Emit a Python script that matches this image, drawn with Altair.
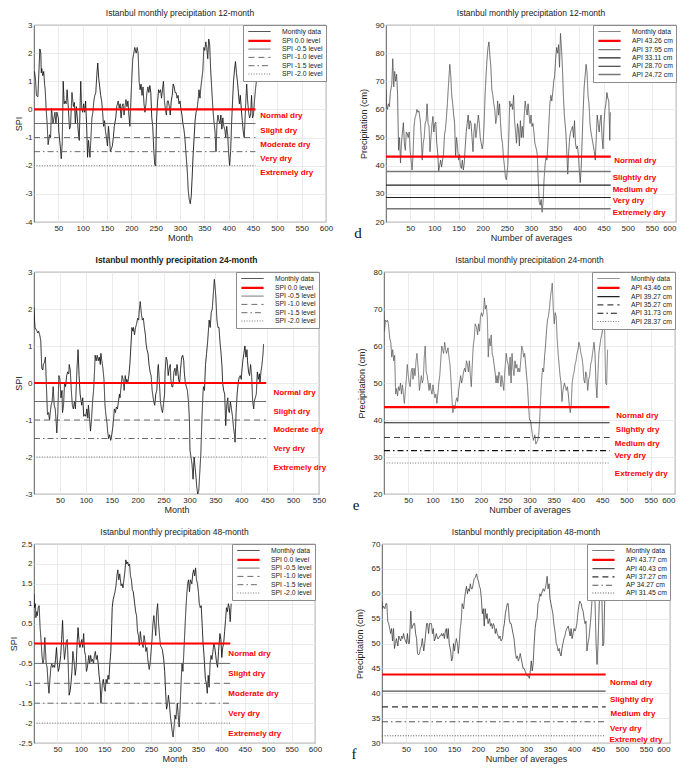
import altair as alt
import pandas as pd

FONT = "Liberation Sans"
SERIF = "Liberation Serif"

# ---------------- data (month, value) ----------------
spi12 = [(1,1.35),(3,1.1),(5,0.5),(8,0.45),(10,1.3),(12,2.15),(14,2.0),(15,1.3),(16,1.45),(18,1.2),(20,1.35),(22,0.85),(23,0.7),(25,0.0),(27,-0.5),(29,-1.25),(32,-0.9),(34,-1.0),(36,0.05),(39,-0.5),(41,-0.3),(43,-0.1),(45,-0.5),(47,-0.1),(50,-0.3),(51,-0.8),(54,-1.3),(56,-1.75),(58,-1.2),(60,1.0),(62,0.2),(64,0.3),(66,0.2),(68,0.7),(70,0.2),(73,-0.7),(75,-0.6),(78,0.6),(81,0.1),(83,0.25),(85,-0.5),(87,0.1),(89,-0.3),(91,-0.8),(93,-1.1),(95,0.3),(96,1.0),(98,0.05),(100,-0.1),(102,0.2),(104,-0.1),(106,0.3),(108,-0.5),(110,-1.7),(112,-1.1),(115,-1.7),(117,-1.0),(119,-0.3),(121,-0.1),(123,0.3),(125,0.5),(127,0.6),(129,1.2),(131,1.65),(133,1.1),(135,0.8),(137,0.5),(139,0.3),(141,-0.1),(143,-0.6),(145,-0.4),(147,-0.8),(149,-1.0),(151,-1.3),(153,-0.6),(155,-1.0),(157,-1.5),(161,-1.3),(163,-1.0),(165,-0.6),(168,-0.3),(170,0.1),(173,0.3),(175,0.05),(177,0.2),(179,-0.3),(181,0.1),(183,0.2),(185,-0.2),(187,0.1),(189,0.35),(191,0.1),(193,0.3),(195,-0.2),(197,-0.6),(199,0.3),(201,1.1),(203,1.8),(205,2.0),(207,2.2),(210,2.0),(212,2.2),(214,2.0),(216,1.0),(218,0.7),(220,0.9),(222,0.5),(224,0.8),(226,0.2),(228,-0.1),(230,0.2),(232,0.6),(234,0.8),(236,0.6),(238,0.85),(240,0.6),(242,-0.3),(244,-0.6),(246,-1.4),(248,-1.95),(250,-2.0),(251,-1.0),(252,-0.3),(254,0.3),(256,0.7),(258,0.6),(260,0.7),(262,0.4),(264,0.7),(266,1.0),(268,0.3),(270,0.0),(272,-0.2),(274,0.3),(276,0.3),(278,0.1),(280,-0.2),(282,0.3),(284,0.5),(286,0.9),(288,0.8),(290,0.6),(292,0.6),(294,0.4),(296,0.5),(298,0.2),(300,0.3),(302,0.0),(304,-0.2),(306,-0.5),(308,-0.7),(310,-1.0),(312,-1.5),(315,-2.2),(317,-2.9),(319,-3.2),(321,-3.35),(323,-3.1),(325,-2.4),(327,-1.6),(329,-1.0),(331,-0.4),(333,-0.1),(335,0.0),(337,0.3),(339,0.7),(341,0.4),(343,0.8),(345,1.1),(347,1.4),(349,2.2),(351,2.1),(353,2.4),(355,2.2),(357,1.8),(359,2.5),(361,2.3),(363,1.4),(365,0.8),(367,0.2),(369,-0.3),(372,-0.8),(374,-1.5),(376,-0.5),(378,-0.2),(380,-0.4),(382,-0.5),(384,-0.2),(386,-0.7),(388,-0.3),(390,-0.6),(392,-0.7),(394,-1.0),(396,-0.6),(398,-0.9),(400,-1.6),(402,-2.0),(404,-1.5),(406,-0.5),(408,0.3),(410,1.0),(412,1.4),(414,1.7),(416,1.3),(418,1.0),(420,0.6),(422,0.2),(424,0.5),(426,0.0),(428,-0.4),(430,-0.8),(432,-1.0),(435,0.2),(437,0.9),(439,0.3),(441,-0.1),(443,-0.3),(445,-0.2),(447,0.5),(449,-0.3),(451,-0.2),(453,0.3),(455,0.7),(457,1.0),(459,1.3)]

api12 = [(0,67),(1,62),(3,60),(5,62),(7,61),(9,66),(12,69),(14,78),(16,68),(18,73.5),(20,70),(22,72.5),(24,65),(26,45.5),(28,50),(30,41),(32,48),(34,52),(36,55.3),(38,48),(40,45.5),(42,52),(44,51.5),(46,50),(48,52),(50,45),(52,42),(54,38.5),(56,44),(58,54),(60,57),(62,58),(64,60),(66,59),(68,59.5),(71,56),(73,50),(75,42),(77,48),(79,50),(81,55),(83,56),(85,62),(87,55),(89,54),(91,45),(93,50),(95,54.5),(97,57.5),(99,52),(101,55),(103,55.5),(105,48),(107,44.5),(109,38),(111,40),(113,42),(115,39.5),(117,42),(119,44),(121,51),(123,53),(125,57),(127,62),(129,68),(132,76),(134,72),(136,65),(138,62),(140,58),(142,55),(144,43),(146,50),(148,47),(150,42),(152,44),(154,40),(156,39),(158,42),(160,38.5),(162,41),(164,47),(166,52),(168,55),(170,58),(172,53),(174,56),(176,55),(178,50),(180,45),(182,52),(184,55),(186,50),(188,53),(191,58),(193,55),(195,50),(197,48),(199,46),(201,48),(203,55),(205,65),(207,72),(209,78),(211,82),(213,84),(215,79),(217,75),(219,67),(221,65),(223,62),(225,60),(227,55),(229,57),(231,63),(233,58),(235,62),(237,55),(239,50),(241,48),(243,43),(245,40),(247,36),(249,35),(252,40),(254,50),(256,63),(258,61),(260,62),(262,60),(264,65),(266,56),(268,52),(270,48),(272,55),(274,53),(276,47),(278,56),(280,50),(282,54),(284,50),(286,58),(288,63),(290,60),(292,58),(294,62),(296,58),(298,55),(300,58),(302,54),(304,55),(306,52),(308,48),(311,46),(313,44),(315,35),(317,27),(319,26),(321,28),(323,23.5),(325,27),(327,35),(329,40),(331,43),(333,42),(335,48),(337,55),(339,62),(341,65),(343,63),(345,66),(347,70),(349,72),(351,78),(353,82),(355,80),(357,83),(359,75),(361,87),(363,82),(365,75),(367,65),(369,58),(372,52),(374,45),(376,37),(378,45),(380,50),(382,52),(384,53),(386,54),(388,50),(390,56),(392,48),(394,46),(396,47),(398,44),(400,38),(402,34),(404,40),(406,50),(408,60),(410,68),(412,72),(414,76),(416,73),(418,65),(420,62),(422,55),(424,52),(426,50),(428,48),(431,45),(433,42),(435,50),(437,58),(439,55),(441,52),(443,56),(445,58),(447,50),(449,46),(451,55),(453,60),(455,62),(457,66),(459,64),(461,63),(463,49),(464,59)]

spi24 = [(0,2.05),(1,1.7),(2,1.5),(4,1.45),(6,1.4),(7,1.35),(9,1.4),(11,1.3),(13,1.15),(15,0.4),(17,0.35),(18,0.5),(20,0.55),(22,0.7),(24,-0.1),(26,-0.85),(28,-0.8),(30,-1.0),(31,-0.85),(33,-0.6),(35,-0.5),(37,-0.1),(39,-0.6),(41,-0.7),(43,-1.1),(44,-1.35),(46,-0.8),(48,0.2),(50,0.1),(52,-0.4),(54,-0.2),(55,-0.8),(57,-0.6),(59,0.0),(61,-0.1),(63,0.2),(65,0.3),(67,0.25),(68,0.5),(70,0.35),(72,-0.2),(74,-0.6),(76,-0.7),(78,-0.5),(80,-0.7),(81,-0.3),(83,0.4),(85,0.9),(87,0.2),(89,-0.3),(91,-0.5),(92,-0.6),(94,-0.4),(96,-0.9),(98,-0.85),(100,-0.9),(102,-0.7),(104,-0.95),(105,-0.6),(107,-0.9),(109,-1.3),(111,-1.0),(113,-0.5),(115,-0.2),(117,0.4),(118,0.75),(120,0.6),(122,0.75),(124,0.6),(126,0.7),(128,0.5),(129,0.8),(131,0.6),(133,0.4),(135,0.1),(137,-0.6),(139,-0.9),(141,-1.1),(142,-1.3),(144,-1.5),(146,-1.4),(148,-1.55),(150,-1.4),(152,-1.2),(154,-0.9),(155,-0.7),(157,-0.8),(159,-0.65),(161,-0.7),(163,-0.5),(165,-0.3),(166,-0.4),(168,-0.1),(170,0.2),(172,0.1),(174,-0.2),(176,0.2),(178,0.0),(179,0.1),(181,0.0),(183,0.2),(185,0.5),(187,1.0),(189,1.5),(191,1.4),(192,1.5),(194,1.3),(196,1.5),(198,1.6),(200,1.75),(202,1.7),(203,1.95),(205,2.2),(207,1.9),(209,1.7),(211,1.75),(213,1.5),(215,1.3),(216,1.1),(218,0.9),(220,0.8),(222,0.5),(224,0.3),(226,0.2),(228,-0.2),(229,-0.3),(231,-0.5),(233,-0.6),(235,-0.3),(237,-0.2),(239,0.4),(240,0.5),(242,0.0),(244,-0.5),(246,-0.7),(248,-0.8),(250,-0.55),(252,-0.3),(253,0.3),(255,0.7),(257,0.6),(259,0.2),(261,0.4),(263,0.5),(264,0.1),(266,-0.1),(268,-0.1),(270,0.3),(272,0.4),(274,0.2),(276,0.5),(277,0.4),(279,0.1),(281,0.0),(283,0.4),(285,0.7),(287,0.75),(289,0.6),(290,0.3),(292,0.0),(294,-0.1),(296,-0.2),(298,-0.5),(300,-1.0),(301,-1.8),(303,-2.0),(305,-2.2),(307,-2.6),(309,-2.0),(311,-2.3),(313,-2.6),(314,-2.8),(316,-3.0),(318,-2.9),(320,-2.4),(322,-1.9),(324,-1.0),(326,-0.3),(327,-0.1),(329,-0.2),(331,0.5),(333,0.8),(335,1.1),(337,1.5),(338,1.7),(340,1.5),(342,1.9),(344,2.0),(346,2.4),(348,2.8),(350,2.5),(351,2.3),(353,1.7),(355,1.5),(357,1.5),(359,1.1),(361,0.8),(363,0.4),(364,0.0),(366,-0.2),(368,-0.3),(370,-1.15),(372,-0.6),(374,-0.4),(375,-0.7),(377,-0.8),(379,-0.5),(381,-0.7),(383,-0.9),(385,-1.2),(387,-1.4),(388,-1.6),(390,-0.8),(392,-0.3),(394,0.0),(396,0.15),(398,0.2),(400,0.1),(401,0.3),(403,0.6),(405,0.8),(407,1.0),(409,0.7),(411,0.9),(412,0.6),(414,0.3),(416,0.2),(418,0.5),(420,0.2),(422,-0.5),(424,-0.7),(425,-0.5),(427,-0.4),(429,-0.3),(431,0.3),(433,0.1),(435,0.25),(436,0.0),(438,0.3),(440,0.5),(442,0.8),(443,1.05)]

api24 = [(0,69),(1,64),(3,67),(5,66.5),(7,67),(9,66),(12,62),(14,61),(16,57),(18,59),(20,56),(22,57.5),(24,47),(26,48.5),(28,46.5),(30,49),(32,48),(34,50),(36,47),(38,49.5),(40,47),(42,44.5),(44,48),(46,51),(48,55),(50,52),(52,50),(54,49),(56,53),(58,54),(60,51),(62,54),(64,52),(66,56),(68,58),(71,53),(73,48),(75,50),(77,52),(79,50),(81,51),(83,57),(85,60),(87,53),(89,52),(91,50),(93,48),(95,50),(97,48),(99,47),(101,49.5),(103,47.5),(105,46),(107,47),(109,44.5),(111,47),(113,50),(115,52),(117,56),(119,60),(121,59),(123,58),(125,61),(127,59),(129,58),(132,59.5),(134,57),(136,55),(138,51),(140,46),(142,42),(144,44),(146,43),(148,45),(150,46),(152,45),(154,48),(156,50),(158,52),(160,50),(162,51),(164,53),(166,54),(168,53),(170,56),(172,55),(174,53),(176,56),(178,52),(180,49),(182,55),(184,60),(186,62),(188,66),(191,65),(193,63),(195,66),(197,64),(199,68),(201,69),(203,68),(205,69),(207,73),(209,70),(211,71),(213,68),(215,57),(217,62),(219,60),(221,63),(223,58),(225,57),(227,55),(229,53),(231,50),(233,52),(235,50),(237,53),(239,52),(241,49),(243,52),(245,50),(247,48),(249,53),(252,58),(254,56),(256,55),(258,52),(260,57),(262,50),(264,58),(266,54),(268,52),(270,56),(272,54),(274,55),(276,53),(278,54),(280,53),(282,56),(284,60),(286,59),(288,57),(290,58),(292,55),(294,52),(296,49),(298,44),(300,40),(302,40),(304,38),(306,36),(308,34.5),(311,36),(313,33.5),(315,34),(317,34.5),(319,36),(321,40),(323,46),(325,51),(327,54),(329,53),(331,57),(333,60),(335,64),(337,67),(339,68),(341,70),(343,73),(345,75),(347,77),(349,70),(351,66),(353,69),(355,68),(357,62),(359,58),(361,55),(363,52),(365,50),(367,45),(369,48),(372,50),(374,49),(376,48),(378,49),(380,47),(382,44),(384,42),(386,44),(388,50),(390,52),(392,53),(394,55),(396,56),(398,58),(400,59),(402,61),(404,60),(406,58),(408,57),(410,55),(412,51),(414,50),(416,53),(418,52),(420,48),(422,51),(424,52),(426,55),(428,56),(431,59),(433,61),(435,58),(437,50),(439,46),(441,52),(443,58),(445,60),(447,62),(449,63),(451,65),(453,66),(455,64),(457,50),(459,49.5),(461,59)]

spi48 = [(0,1.25),(1,0.9),(3,1.0),(4,0.65),(6,0.8),(7,0.7),(9,0.9),(11,0.95),(13,0.4),(15,0.1),(17,-0.3),(19,-0.5),(21,-0.4),(23,0.15),(26,-0.5),(28,-0.6),(30,-1.0),(32,-1.25),(34,-0.9),(36,-0.6),(38,-0.5),(40,-0.6),(42,-0.55),(44,-0.6),(46,-0.4),(48,-0.1),(50,-0.5),(52,-0.7),(54,-0.6),(57,-0.3),(59,0.1),(61,0.58),(63,0.0),(65,-0.4),(67,-0.2),(69,0.05),(71,0.1),(73,-0.5),(75,-1.3),(77,-1.2),(79,-1.0),(81,-0.7),(83,-0.2),(86,-0.5),(88,-0.8),(90,-0.6),(92,0.0),(94,0.4),(96,0.1),(98,-0.1),(100,0.0),(102,0.1),(104,-0.1),(106,0.25),(108,-0.2),(110,-0.3),(112,-0.7),(114,-0.6),(117,-0.3),(119,-0.5),(121,-0.3),(123,-0.45),(125,-0.4),(127,-0.5),(129,-0.3),(131,-0.2),(133,-0.4),(135,-0.3),(137,-0.5),(139,-0.8),(141,-1.0),(143,-1.5),(146,-1.0),(148,-0.9),(150,-1.1),(152,-1.2),(154,-0.9),(156,-1.0),(158,-0.8),(160,-0.9),(162,-0.5),(164,-0.2),(166,0.5),(167,0.9),(169,1.1),(171,1.2),(173,1.3),(175,1.45),(177,1.7),(179,1.85),(181,1.6),(183,1.75),(186,1.45),(188,1.5),(190,1.4),(192,1.6),(194,1.8),(196,2.1),(198,2.0),(200,2.05),(202,1.95),(204,2.0),(206,1.7),(208,1.6),(210,1.35),(212,1.3),(215,1.0),(217,0.8),(219,0.7),(221,0.3),(223,0.2),(225,-0.05),(227,0.3),(229,0.1),(231,0.0),(233,-0.1),(235,0.2),(237,0.05),(239,-0.2),(241,-0.1),(243,-0.4),(246,-0.65),(248,-0.5),(250,-0.2),(252,0.1),(254,0.5),(256,0.7),(258,0.45),(260,0.2),(262,0.8),(264,1.0),(266,0.5),(268,0.2),(270,-0.05),(272,-0.1),(274,-0.15),(277,-0.4),(279,-0.7),(281,-1.2),(283,-1.65),(285,-1.55),(287,-1.3),(289,-1.5),(291,-1.8),(293,-2.0),(295,-2.2),(297,-2.35),(299,-2.1),(301,-1.8),(303,-1.9),(306,-1.5),(308,-1.8),(310,-2.1),(312,-1.6),(314,-1.0),(316,-0.5),(318,-0.7),(320,-0.2),(322,0.3),(324,0.8),(326,1.2),(328,1.5),(330,1.6),(332,1.3),(334,1.6),(337,1.5),(339,1.75),(341,1.85),(343,1.7),(345,1.9),(347,1.6),(349,1.5),(351,1.3),(353,1.0),(355,0.9),(357,0.95),(359,0.5),(361,0.0),(363,-0.3),(366,-0.9),(368,-1.0),(370,-1.25),(372,-0.8),(374,-1.1),(376,-0.5),(378,-0.3),(380,-0.4),(382,-0.2),(384,0.0),(386,-0.1),(388,-0.3),(390,-0.5),(392,-0.6),(394,-0.2),(397,0.25),(399,0.1),(401,-0.35),(403,-0.1),(405,0.0),(407,0.3),(409,0.6),(411,0.9),(413,0.8),(415,1.0),(417,0.9),(419,0.55),(421,1.0)]

api48 = [(0,58.5),(1,57),(3,57.5),(6,57),(8,58),(10,58),(12,54.5),(14,54),(16,53),(18,52),(20,53),(22,50.5),(24,53),(26,49),(28,50),(30,51),(33,49.5),(35,51.5),(37,51),(39,50.5),(41,51.5),(43,51),(45,52),(47,51),(49,50.5),(51,50),(53,52),(55,50),(57,50),(60,56.5),(62,53),(64,53.5),(66,54),(68,54),(70,52),(72,51),(74,48),(76,47.7),(78,48),(80,49),(82,49.5),(84,51),(87,48.5),(89,50),(91,52),(93,54),(95,54),(97,52),(99,54),(101,54),(103,54),(105,52),(107,53),(109,50.5),(111,51),(113,52),(116,51),(118,51),(120,51.5),(122,51.5),(124,52),(126,51.5),(128,52),(130,51),(132,52.5),(134,53),(136,51),(138,53),(140,50),(143,48.5),(145,46.5),(147,47),(149,50),(151,48.5),(153,50),(155,51),(157,50),(159,48),(161,50),(163,53),(165,54.5),(167,58),(170,57),(172,59),(174,60.5),(176,61.5),(178,60),(180,61),(182,60.5),(184,62),(186,61),(188,61),(190,62),(192,63),(194,63.2),(197,64),(199,63),(201,62.5),(203,61.5),(205,61),(207,59),(209,56),(211,57),(213,53.5),(215,57),(217,55),(219,56),(221,54),(224,55),(226,53.5),(228,54),(230,53),(232,54),(234,53.5),(236,52),(238,53),(240,52),(242,51.5),(244,51),(246,51.5),(248,50.5),(251,51),(253,53),(255,54),(257,56),(259,57),(261,58),(263,58),(265,55),(267,54),(269,54),(271,53),(273,52),(275,51),(278,48),(280,47),(282,47.5),(284,46.5),(286,47),(288,48),(290,47),(292,46),(294,45),(296,45),(298,44.5),(300,44),(302,43.5),(305,43.5),(307,43),(309,44.5),(311,46.5),(313,44.5),(315,46),(317,50),(319,53),(321,54.5),(323,55),(325,58),(327,58.5),(329,60),(331,59.5),(334,60.5),(336,61),(338,60.5),(340,61),(342,62),(344,63.5),(346,61),(348,62),(350,59),(352,58),(354,57),(356,56),(358,54),(361,52),(363,50),(365,49.5),(367,48.5),(369,49),(371,48),(373,47.5),(375,49),(377,50),(379,51),(381,51.5),(383,52.5),(385,53),(388,53.5),(390,52.5),(392,51.5),(394,53),(396,51),(398,52),(400,53),(402,52.5),(404,53),(406,54),(408,56),(410,57.5),(412,58.5),(415,58),(417,57),(419,56.5),(421,55),(423,54),(425,54.5),(427,48.5),(429,50),(431,51),(433,53),(435,55),(437,58),(439,60.5),(442,60),(444,58),(446,50),(448,45.8),(450,50),(452,56),(454,61),(456,66.5),(458,60),(460,49.5),(462,50),(464,59)]

# threshold levels and legend names
spi_levels = [0.0, -0.5, -1.0, -1.5, -2.0]
spi_names = ["Monthly data", "SPI  0.0 level", "SPI -0.5 level", "SPI -1.0 level", "SPI -1.5 level", "SPI -2.0 level"]
api12_levels = [43.26, 37.95, 33.11, 28.70, 24.72]
api12_names = ["Monthly data", "API 43.26 cm", "API 37.95 cm", "API 33.11 cm", "API 28.70 cm", "API 24.72 cm"]
api24_levels = [43.46, 39.27, 35.27, 31.73, 28.37]
api24_names = ["Monthly data", "API 43.46 cm", "API 39.27 cm", "API 35.27 cm", "API 31.73 cm", "API 28.37 cm"]
api48_levels = [43.77, 40.43, 37.27, 34.27, 31.45]
api48_names = ["Monthly data", "API 43.77 cm", "API 40.43 cm", "API 37.27 cm", "AP 34.27 cm", "API 31.45 cm"]

# x-extent of the threshold lines
spi12_span = [0, 455]
api12_span = [0, 465]
spi24_span = [0, 448]
api24_span = [0, 465]
spi48_span = [0, 419]
api48_span = [0, 466]

# drought class annotations
spi_classes = ["Normal dry", "Slight dry", "Moderate dry", "Very dry", "Extremely dry"]
api_classes = ["Normal dry", "Slightly dry", "Medium dry", "Very dry", "Extremely dry"]
spi12_cx = [465, 465, 465, 465, 465]
spi12_cy = [-0.25, -0.75, -1.25, -1.75, -2.25]
api12_cx = [472, 469, 469, 469, 469]
api12_cy = [41.5, 35.6, 31.3, 27.4, 23.1]
spi24_cx = [462, 462, 462, 462, 462]
spi24_cy = [-0.28, -0.78, -1.28, -1.78, -2.29]
api24_cx = [479, 478, 476, 475, 476]
api24_cy = [41.1, 37.2, 33.4, 30.3, 25.4]
spi48_cx = [415, 415, 415, 415, 415]
spi48_cy = [-0.27, -0.76, -1.26, -1.76, -2.27]
api48_cx = [475, 475, 476, 475, 474]
api48_cy = [42.1, 38.7, 35.8, 32.8, 30.7]

x_ticks600 = [50, 100, 150, 200, 250, 300, 350, 400, 450, 500, 550, 600]
x_ticks550 = [50, 100, 150, 200, 250, 300, 350, 400, 450, 500, 550]

# ---------------- styles ----------------
SOLID, DASH, DASHDOT, DOT = [1, 0], [6, 4], [6, 3, 1.5, 3], [1, 1.6]
RED = "#ff0000"
spi_style = (["#111111", RED, "#5a5a5a", "#5a5a5a", "#5a5a5a", "#6a6a6a"],
             [SOLID, SOLID, SOLID, DASH, DASHDOT, DOT],
             [0.9, 2.2, 0.9, 0.9, 0.9, 0.9])
api12_style = (["#444444", RED, "#777777", "#222222", "#222222", "#777777"],
               [SOLID, SOLID, SOLID, SOLID, SOLID, SOLID],
               [0.8, 2.2, 1.4, 1.1, 1.1, 1.4])
api24_style = (["#555555", RED, "#222222", "#444444", "#111111", "#777777"],
               [SOLID, SOLID, SOLID, DASH, DASHDOT, DOT],
               [0.8, 2.2, 1.1, 1.1, 1.1, 1.1])
api48_style = (["#333333", RED, "#555555", "#333333", "#555555", "#555555"],
               [SOLID, SOLID, SOLID, DASH, DASHDOT, DOT],
               [0.8, 2.2, 1.1, 1.1, 1.1, 1.0])

NUM = "datum.value + ''"


def panel(series, levels, names, span, classes, cx, cy, style, title, ytitle, xtitle,
          xdom, xticks, ydom, yticks, w, h, ytp, bold=False, letter=None, flush=False):
    rows = [{"m": m, "v": v, "s": names[0]} for m, v in series]
    for lv, nm in zip(levels, names[1:]):
        rows.append({"m": span[0], "v": lv, "s": nm})
        rows.append({"m": span[1], "v": lv, "s": nm})
    df = pd.DataFrame(rows)
    colors, dashes, widths = style
    xs = alt.Scale(domain=xdom, nice=False, zero=False)
    ys = alt.Scale(domain=ydom, nice=False, zero=False)
    lines = alt.Chart(df).mark_line(clip=True).encode(
        x=alt.X("m:Q", scale=xs, axis=alt.Axis(values=xticks, title=xtitle, labelExpr=NUM,
                                               labelOverlap=False, tickCount=len(xticks),
                                               labelFlush=flush)),
        y=alt.Y("v:Q", scale=ys, axis=alt.Axis(values=yticks, title=ytitle, labelExpr=NUM, titlePadding=ytp,
                                               labelOverlap=False, tickCount=len(yticks))),
        color=alt.Color("s:N", scale=alt.Scale(domain=names, range=colors), legend=alt.Legend(title=None)),
        strokeDash=alt.StrokeDash("s:N", scale=alt.Scale(domain=names, range=dashes), legend=alt.Legend(title=None)),
        strokeWidth=alt.StrokeWidth("s:N", scale=alt.Scale(type="ordinal", domain=names, range=widths),
                                    legend=alt.Legend(title=None)),
    )
    tdf = pd.DataFrame({"m": cx, "v": cy, "t": classes})
    texts = alt.Chart(tdf).mark_text(align="left", baseline="middle", color=RED, font=FONT,
                                     fontSize=8, fontWeight="bold").encode(x="m:Q", y="v:Q", text="t:N")
    layers = [lines, texts]
    if letter:
        ldf = pd.DataFrame({"t": [letter]})
        layers.append(alt.Chart(ldf).mark_text(font=SERIF, fontSize=15, align="center", baseline="middle",
                                               color="#111111").encode(
            x=alt.value(-28), y=alt.value(h + 11), text="t:N"))
    return alt.layer(*layers).properties(
        width=w, height=h,
        title=alt.TitleParams(title, fontWeight="bold" if bold else "normal"))


A = panel(spi12, spi_levels, spi_names, spi12_span, spi_classes, spi12_cx, spi12_cy, spi_style,
          "Istanbul monthly precipitation 12-month", "SPI", "Month",
          [0, 600], x_ticks600, [-4, 3], [-4, -3, -2, -1, 0, 1, 2, 3], 292, 197, 1)
B = panel(api12, api12_levels, api12_names, api12_span, api_classes, api12_cx, api12_cy, api12_style,
          "Istanbul monthly precipitation 12-month", "Precipitation (cm)", "Number of averages",
          [0, 600], x_ticks600, [20, 90], [20, 30, 40, 50, 60, 70, 80, 90], 290, 197, 7, letter="d", flush=True)
C = panel(spi24, spi_levels, spi_names, spi24_span, spi_classes, spi24_cx, spi24_cy, spi_style,
          "Istanbul monthly precipitation 24-month", "SPI", "Month",
          [0, 550], x_ticks550, [-3, 3], [-3, -2, -1, 0, 1, 2, 3], 285, 222, 1, bold=True)
D = panel(api24, api24_levels, api24_names, api24_span, api_classes, api24_cx, api24_cy, api24_style,
          "Istanbul monthly precipitation 24-month", "Precipitation (cm)", "Number of averages",
          [0, 600], x_ticks600, [20, 80], [20, 30, 40, 50, 60, 70, 80], 291, 222, 7, letter="e", flush=True)
E = panel(spi48, spi_levels, spi_names, spi48_span, spi_classes, spi48_cx, spi48_cy, spi_style,
          "Istanbul monthly precipitation 48-month", "SPI", "Month",
          [0, 600], x_ticks600, [-2.5, 2.5], [-2.5, -2, -1.5, -1, -0.5, 0, 0.5, 1, 1.5, 2, 2.5], 281, 199, 0)
F = panel(api48, api48_levels, api48_names, api48_span, api_classes, api48_cx, api48_cy, api48_style,
          "Istanbul monthly precipitation 48-month", "Precipitation (cm)", "Number of averages",
          [0, 600], x_ticks600, [30, 70], [30, 35, 40, 45, 50, 55, 60, 65, 70], 288, 199, 7, letter="f", flush=True)

IND = dict(color="independent", strokeDash="independent", strokeWidth="independent")


def row(a, b, sp):
    return alt.hconcat(a, b, spacing=sp).resolve_scale(**IND).resolve_legend(**IND)


chart = alt.vconcat(row(A, B, 19), row(C, D, 25), row(E, F, 28), spacing=12).resolve_scale(**IND).resolve_legend(**IND)
chart = chart.properties(padding=0, background="white").configure_view(
    stroke="#333333", strokeWidth=0.8
).configure_axis(
    labelFont=FONT, titleFont=FONT, labelFontSize=8, titleFontSize=9,
    labelColor="#262626", titleColor="#262626", titleFontWeight="normal",
    grid=True, gridColor="#e6e6e6", gridWidth=0.8, domain=False, ticks=False,
    labelFlush=False, labelOverlap=False, labelPadding=2
).configure_axisX(titlePadding=1).configure_axisY(labelPadding=2).configure_title(
    font=FONT, fontSize=8.5, color="#222222", offset=0
).configure_legend(
    orient="top-right", offset=0, padding=3, fillColor="white", strokeColor="#8c8c8c",
    labelFont=FONT, labelFontSize=6.8, labelColor="#222222", symbolType="M-3.7,0L3.7,0",
    symbolSize=36, symbolOffset=9, labelOffset=18, rowPadding=0.3, labelLimit=120
)

chart.save("out.html", embed_options={"renderer": "svg", "actions": False})
